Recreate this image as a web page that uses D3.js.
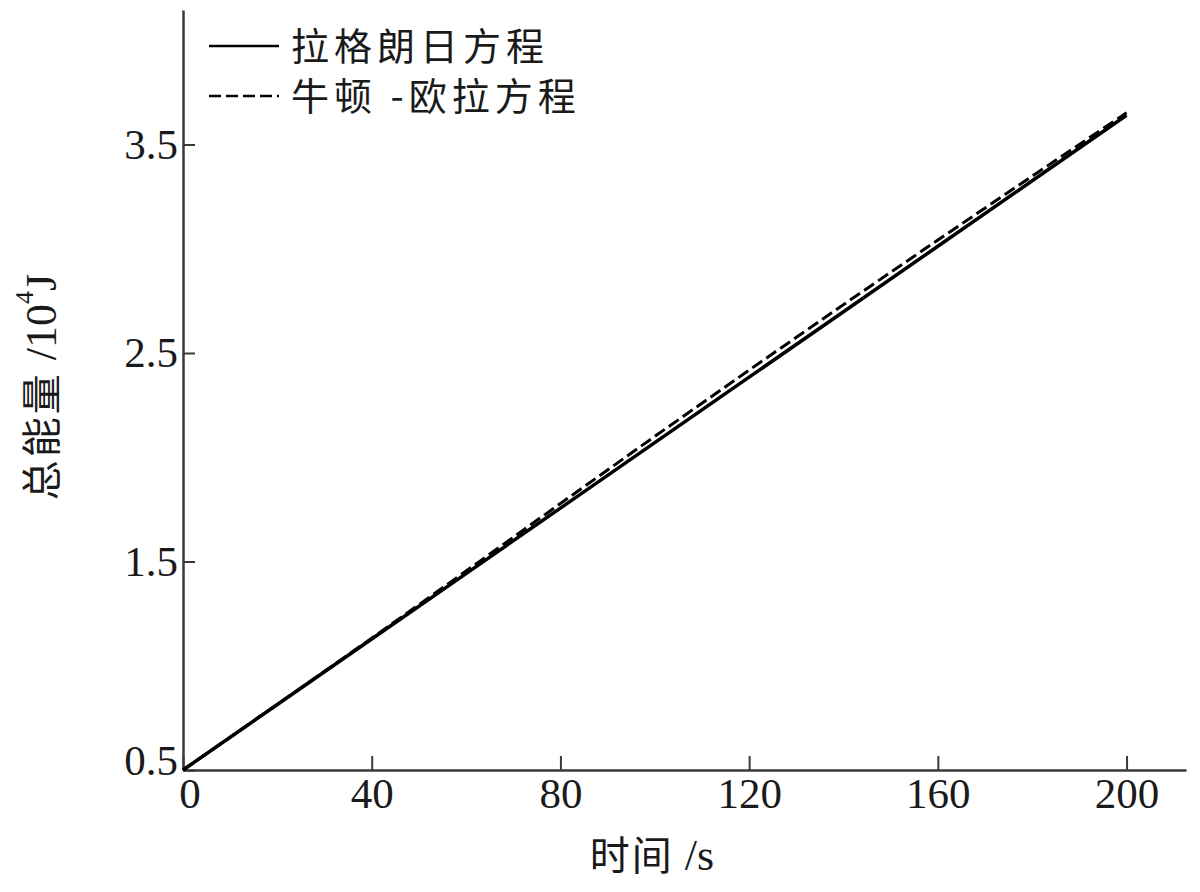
<!DOCTYPE html>
<html>
<head>
<meta charset="utf-8">
<script src="https://cdn.jsdelivr.net/npm/d3@7"></script>
<style>
  body { margin: 0; background: #fff; }
  svg { display: block; }
</style>
</head>
<body>
<div class="chart"></div>
<script>
// 数据
var timeS = [0, 20, 40, 60, 80, 100, 120, 140, 160, 180, 200];
var lagrange = [0.5, 0.814, 1.128, 1.442, 1.756, 2.07, 2.384, 2.698, 3.012, 3.326, 3.64];
var newtonEuler = [0.5, 0.815, 1.132, 1.454, 1.778, 2.1, 2.418, 2.732, 3.042, 3.348, 3.652];
var seriesNames = ['拉格朗日方程', '牛顿 -欧拉方程'];
var xTicks = [0, 40, 80, 120, 160, 200];
var yTicks = [0.5, 1.5, 2.5, 3.5];

var width = 1200;
var height = 892;
var serif = "'Liberation Serif', 'DejaVu Serif', serif";
var cjk = "'Noto Sans CJK SC', 'Noto Sans', sans-serif";

var x = d3.scaleLinear().domain([0, 212.6]).range([183, 1186]);
var y = d3.scaleLinear().domain([0.5, 4.145]).range([770, 10]);

var svg = d3.select('.chart').append('svg')
  .attr('width', width)
  .attr('height', height);

// 坐标轴，刻度朝内
var xAxis = svg.append('g')
  .attr('transform', 'translate(0,770)')
  .call(d3.axisBottom(x).tickValues(xTicks).tickSizeInner(-14).tickSizeOuter(0).tickPadding(7));

var yAxis = svg.append('g')
  .attr('transform', 'translate(183,0)')
  .call(d3.axisLeft(y).tickValues(yTicks).tickFormat(d3.format('.1f')).tickSizeInner(-12).tickSizeOuter(0).tickPadding(5));

[xAxis, yAxis].forEach(function(ax) {
  ax.select('.domain').attr('stroke', '#3a3a3a').attr('stroke-width', 2.5);
  ax.selectAll('.tick line').attr('stroke', '#3a3a3a').attr('stroke-width', 2);
  ax.selectAll('.tick text')
    .attr('fill', '#1a1a1a')
    .style('font-family', serif)
    .style('font-size', '43px');
});

// 0 和 0.5 稍微错开，避免重叠
xAxis.selectAll('.tick text').filter(d => d === 0).attr('dx', '0.15em');
yAxis.selectAll('.tick text').filter(d => d === 0.5).attr('dy', '0.1em');

// 曲线
var line = d3.line()
  .x((d, i) => x(timeS[i]))
  .y(d => y(d));

svg.append('path')
  .datum(lagrange)
  .attr('fill', 'none')
  .attr('stroke', '#000')
  .attr('stroke-width', 3.5)
  .attr('d', line);

svg.append('path')
  .datum(newtonEuler)
  .attr('fill', 'none')
  .attr('stroke', '#000')
  .attr('stroke-width', 3)
  .attr('stroke-dasharray', '12,5')
  .attr('d', line);

// 图例
var legend = svg.append('g');
var legendRows = [
  {name: seriesNames[0], dash: null, y: 46},
  {name: seriesNames[1], dash: '12,5', y: 96}
];

legend.selectAll('line')
  .data(legendRows)
  .enter().append('line')
    .attr('x1', 209)
    .attr('x2', 279)
    .attr('y1', d => d.y)
    .attr('y2', d => d.y)
    .attr('stroke', '#000')
    .attr('stroke-width', 2.5)
    .attr('stroke-dasharray', d => d.dash);

legend.selectAll('text')
  .data(legendRows)
  .enter().append('text')
    .attr('x', 291)
    .attr('y', d => d.y)
    .attr('dy', '0.36em')
    .attr('fill', '#1a1a1a')
    .style('font-family', cjk)
    .style('font-size', '38px')
    .style('letter-spacing', '5px')
    .text(d => d.name);

// 坐标轴标题
var xTitle = svg.append('text')
  .attr('x', 652)
  .attr('y', 870)
  .attr('text-anchor', 'middle')
  .attr('fill', '#1a1a1a')
  .style('font-size', '40px');
xTitle.append('tspan').style('font-family', cjk).style('letter-spacing', '2px').text('时间');
xTitle.append('tspan').style('font-family', serif).style('font-size', '44px').text(' /s');

var yTitle = svg.append('text')
  .attr('transform', 'translate(56,387) rotate(-90)')
  .attr('text-anchor', 'middle')
  .attr('fill', '#1a1a1a')
  .style('font-size', '40px');
yTitle.append('tspan').style('font-family', cjk).style('letter-spacing', '3px').text('总能量');
yTitle.append('tspan').style('font-family', serif).style('font-size', '44px').text(' /10');
yTitle.append('tspan').style('font-family', serif).style('font-size', '26px').attr('dy', '-0.9em').text('4');
yTitle.append('tspan').style('font-family', serif).style('font-size', '44px').attr('dy', '0.53em').text('J');

svg.node();
</script>
</body>
</html>
